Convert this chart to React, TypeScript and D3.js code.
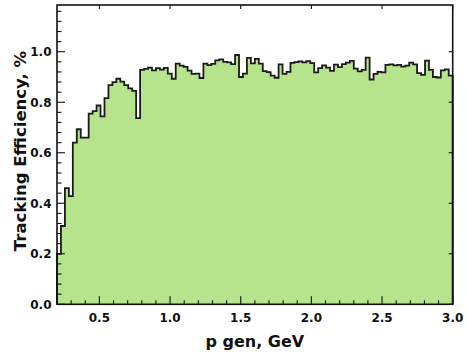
import React from 'react';
import * as d3 from 'd3';

// Histogram range (p gen, GeV) and per-bin tracking efficiency
const binLow = 0.2;
const binHigh = 3.0;
const efficiency = [
  0.200, 0.310, 0.460, 0.428, 0.640, 0.693, 0.660, 0.660, 0.755, 0.765,
  0.787, 0.744, 0.816, 0.868, 0.880, 0.893, 0.882, 0.868, 0.855, 0.845,
  0.737, 0.928, 0.932, 0.937, 0.926, 0.935, 0.929, 0.936, 0.913, 0.893,
  0.953, 0.945, 0.940, 0.925, 0.912, 0.913, 0.896, 0.953, 0.947, 0.952,
  0.966, 0.970, 0.960, 0.958, 0.951, 0.987, 0.900, 0.913, 0.976, 0.954,
  0.972, 0.953, 0.923, 0.919, 0.905, 0.897, 0.950, 0.912, 0.920, 0.956,
  0.959, 0.962, 0.958, 0.963, 0.955, 0.918, 0.935, 0.946, 0.937, 0.924,
  0.949, 0.939, 0.951, 0.957, 0.964, 0.933, 0.922, 0.928, 0.977, 0.890,
  0.912, 0.920, 0.918, 0.948, 0.950, 0.946, 0.948, 0.941, 0.945, 0.957,
  0.950, 0.915, 0.908, 0.965, 0.928, 0.900, 0.898, 0.926, 0.930, 0.905,
];
const xTickLabels = ['0.5', '1.0', '1.5', '2.0', '2.5', '3.0'];
const yTickLabels = ['0.0', '0.2', '0.4', '0.6', '0.8', '1.0'];
const yAxisTop = 1.185;
const xTitle = 'p gen, GeV';
const yTitle = 'Tracking Efficiency, %';

const W = 466;
const H = 353;
const plot = { left: 57, right: 452.7, top: 5, bottom: 304.3 };
const tickFont = '"DejaVu Sans", sans-serif';

export default function App() {
  const x = d3.scaleLinear().domain([binLow, binHigh]).range([plot.left, plot.right]);
  const y = d3.scaleLinear().domain([0, yAxisTop]).range([plot.bottom, plot.top]);
  const binWidth = (binHigh - binLow) / efficiency.length;

  const steps: [number, number][] = [];
  efficiency.forEach((v, i) => {
    const lo = binLow + i * binWidth;
    steps.push([lo, v], [lo + binWidth, v]);
  });

  const area = d3
    .area<[number, number]>()
    .x((d) => x(d[0]))
    .y0(y(0))
    .y1((d) => y(d[1]));
  const outline = d3
    .line<[number, number]>()
    .x((d) => x(d[0]))
    .y((d) => y(d[1]));
  const outlinePts: [number, number][] = [[binLow, 0], ...steps, [binHigh, 0]];

  const xMinor = d3.range(3, 31).map((k) => k / 10);
  const yMinor = d3.range(0, 30).map((k) => k * 0.04).filter((v) => v <= yAxisTop);

  return (
    <svg
      width={W}
      height={H}
      style={{ position: 'absolute', left: 0, top: 0, background: '#fff' }}
    >
      <path d={area(steps) ?? ''} fill="#b5e48c" />
      <path
        d={outline(outlinePts) ?? ''}
        fill="none"
        stroke="#1a1a1a"
        strokeWidth={1.8}
        strokeLinejoin="miter"
      />

      {/* bottom ticks */}
      {xMinor.map((v) => {
        const major = Math.abs(v * 2 - Math.round(v * 2)) < 1e-6;
        return (
          <line
            key={'bx' + v}
            x1={x(v)}
            x2={x(v)}
            y1={plot.bottom}
            y2={plot.bottom - (major ? 8 : 4)}
            stroke="#111"
            strokeWidth={1.1}
          />
        );
      })}
      {/* top ticks */}
      {xTickLabels.map((t) => (
        <line
          key={'tx' + t}
          x1={x(+t)}
          x2={x(+t)}
          y1={plot.top}
          y2={plot.top + 4}
          stroke="#111"
          strokeWidth={1.1}
        />
      ))}
      {/* left ticks */}
      {yMinor.map((v) => {
        const major = Math.abs(v * 5 - Math.round(v * 5)) < 1e-6;
        return (
          <line
            key={'ly' + v}
            x1={plot.left}
            x2={plot.left + (major ? 8 : 4.5)}
            y1={y(v)}
            y2={y(v)}
            stroke="#111"
            strokeWidth={1.1}
          />
        );
      })}
      {/* right ticks */}
      {yTickLabels.map((t) => (
        <line
          key={'ry' + t}
          x1={plot.right}
          x2={plot.right - 4}
          y1={y(+t)}
          y2={y(+t)}
          stroke="#111"
          strokeWidth={1.1}
        />
      ))}

      <rect
        x={plot.left}
        y={plot.top}
        width={plot.right - plot.left}
        height={plot.bottom - plot.top}
        fill="none"
        stroke="#111"
        strokeWidth={1.6}
      />

      {xTickLabels.map((t) => (
        <text
          key={'xl' + t}
          x={x(+t)}
          y={321.5}
          textAnchor="middle"
          fontFamily={tickFont}
          fontSize={12}
          fontWeight="bold"
          fill="#111"
        >
          {t}
        </text>
      ))}
      {yTickLabels.map((t) => (
        <text
          key={'yl' + t}
          x={51.5}
          y={y(+t)}
          dy="0.36em"
          textAnchor="end"
          fontFamily={tickFont}
          fontSize={12}
          fontWeight="bold"
          fill="#111"
        >
          {t}
        </text>
      ))}

      <text
        x={(plot.left + plot.right) / 2}
        y={346.5}
        textAnchor="middle"
        fontFamily={tickFont}
        fontSize={16}
        fontWeight="bold"
        fill="#111"
      >
        {xTitle}
      </text>
      <text
        transform={`translate(26,151) rotate(-90)`}
        textAnchor="middle"
        fontFamily={tickFont}
        fontSize={16.5}
        fontWeight="bold"
        fill="#111"
      >
        {yTitle}
      </text>
    </svg>
  );
}
